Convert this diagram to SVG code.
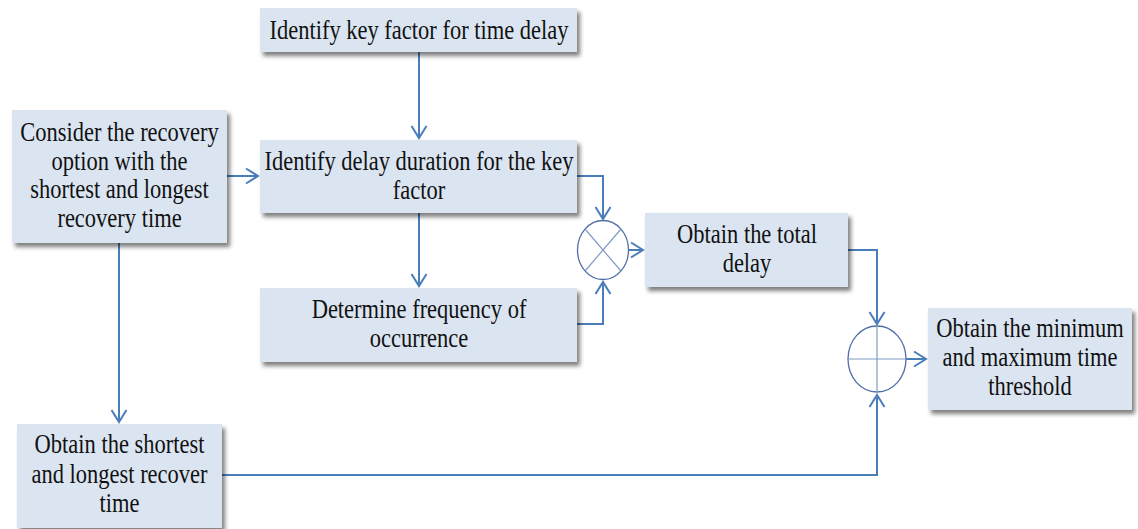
<svg xmlns="http://www.w3.org/2000/svg" width="1138" height="529" viewBox="0 0 1138 529">
  <style>
    .box { fill: #dbe5f1; filter: url(#shadow); }
    .t { font-family: "Liberation Serif", "Times New Roman", serif; font-size: 22.5px; fill: #111; text-anchor: middle; }
    .link { fill: none; stroke: #4a7ebb; stroke-width: 2; marker-end: url(#chev); }
    .op { fill: #fff; stroke: #4f6fa8; stroke-width: 1.3; }
    .opline { stroke: #7f9ac4; stroke-width: 1.2; }
  </style>
  <defs>
    <filter id="shadow" x="-10%" y="-20%" width="125%" height="150%">
      <feDropShadow dx="3" dy="4" stdDeviation="2" flood-color="#000" flood-opacity="0.5"/>
    </filter>
    <marker id="chev" viewBox="-14 -9 16 18" refX="0" refY="0" markerWidth="16" markerHeight="18" markerUnits="userSpaceOnUse" orient="auto">
      <path d="M-12,-7.5 L0,0 L-12,7.5" fill="none" stroke="#4a7ebb" stroke-width="2"/>
    </marker>
  </defs>

  <rect width="1138" height="529" fill="#fff"/>

  <!-- connectors -->
  <g id="connectors">
    <path class="link" d="M419,52 V138"/>
    <path class="link" d="M227,176 H258"/>
    <path class="link" d="M577,176 H603 V219"/>
    <path class="link" d="M577,324 H603 V282"/>
    <path class="link" d="M419,213 V286"/>
    <path class="link" d="M628,250 H643"/>
    <path class="link" d="M848,250 H877 V324"/>
    <path class="link" d="M906,359 H926"/>
    <path class="link" d="M119,243 V422"/>
    <path class="link" d="M222,475 H877 V395"/>
  </g>

  <g id="key-factor">
    <rect class="box" x="260" y="8" width="317" height="44"/>
    <text class="t" transform="translate(419,39) scale(1,1.17)">Identify key factor for time delay</text>
  </g>

  <g id="delay-duration">
    <rect class="box" x="260" y="140" width="317" height="73"/>
    <text class="t" transform="translate(419,170) scale(1,1.17)"><tspan x="0">Identify delay duration for the key</tspan><tspan x="0" dy="24.8">factor</tspan></text>
  </g>

  <g id="frequency">
    <rect class="box" x="260" y="288" width="317" height="74"/>
    <text class="t" transform="translate(419,318) scale(1,1.17)"><tspan x="0">Determine frequency of</tspan><tspan x="0" dy="24.8">occurrence</tspan></text>
  </g>

  <g id="recovery-option">
    <rect class="box" x="12" y="110" width="215" height="133"/>
    <text class="t" transform="translate(119.5,141) scale(1,1.17)"><tspan x="0">Consider the recovery</tspan><tspan x="0" dy="24.4">option with the</tspan><tspan x="0" dy="24.4">shortest and longest</tspan><tspan x="0" dy="24.4">recovery time</tspan></text>
  </g>

  <g id="recover-time">
    <rect class="box" x="17" y="424" width="205" height="104"/>
    <text class="t" transform="translate(119.5,453) scale(1,1.17)"><tspan x="0">Obtain the shortest</tspan><tspan x="0" dy="25.3">and longest recover</tspan><tspan x="0" dy="25.3">time</tspan></text>
  </g>

  <g id="multiply">
    <ellipse class="op" cx="603" cy="250" rx="25.5" ry="29.5"/>
    <line class="opline" x1="585" y1="229" x2="621" y2="271"/>
    <line class="opline" x1="621" y1="229" x2="585" y2="271"/>
  </g>

  <g id="total-delay">
    <rect class="box" x="645" y="213" width="203" height="74"/>
    <text class="t" transform="translate(747,243) scale(1,1.17)"><tspan x="0">Obtain the total</tspan><tspan x="0" dy="24.8">delay</tspan></text>
  </g>

  <g id="sum">
    <ellipse class="op" cx="877" cy="359" rx="29" ry="33"/>
    <line class="opline" x1="848" y1="359" x2="906" y2="359"/>
    <line class="opline" x1="877" y1="326" x2="877" y2="392"/>
  </g>

  <g id="threshold">
    <rect class="box" x="928" y="308" width="204" height="102"/>
    <text class="t" transform="translate(1030,337) scale(1,1.17)"><tspan x="0">Obtain the minimum</tspan><tspan x="0" dy="24.8">and maximum time</tspan><tspan x="0" dy="24.8">threshold</tspan></text>
  </g>
</svg>
